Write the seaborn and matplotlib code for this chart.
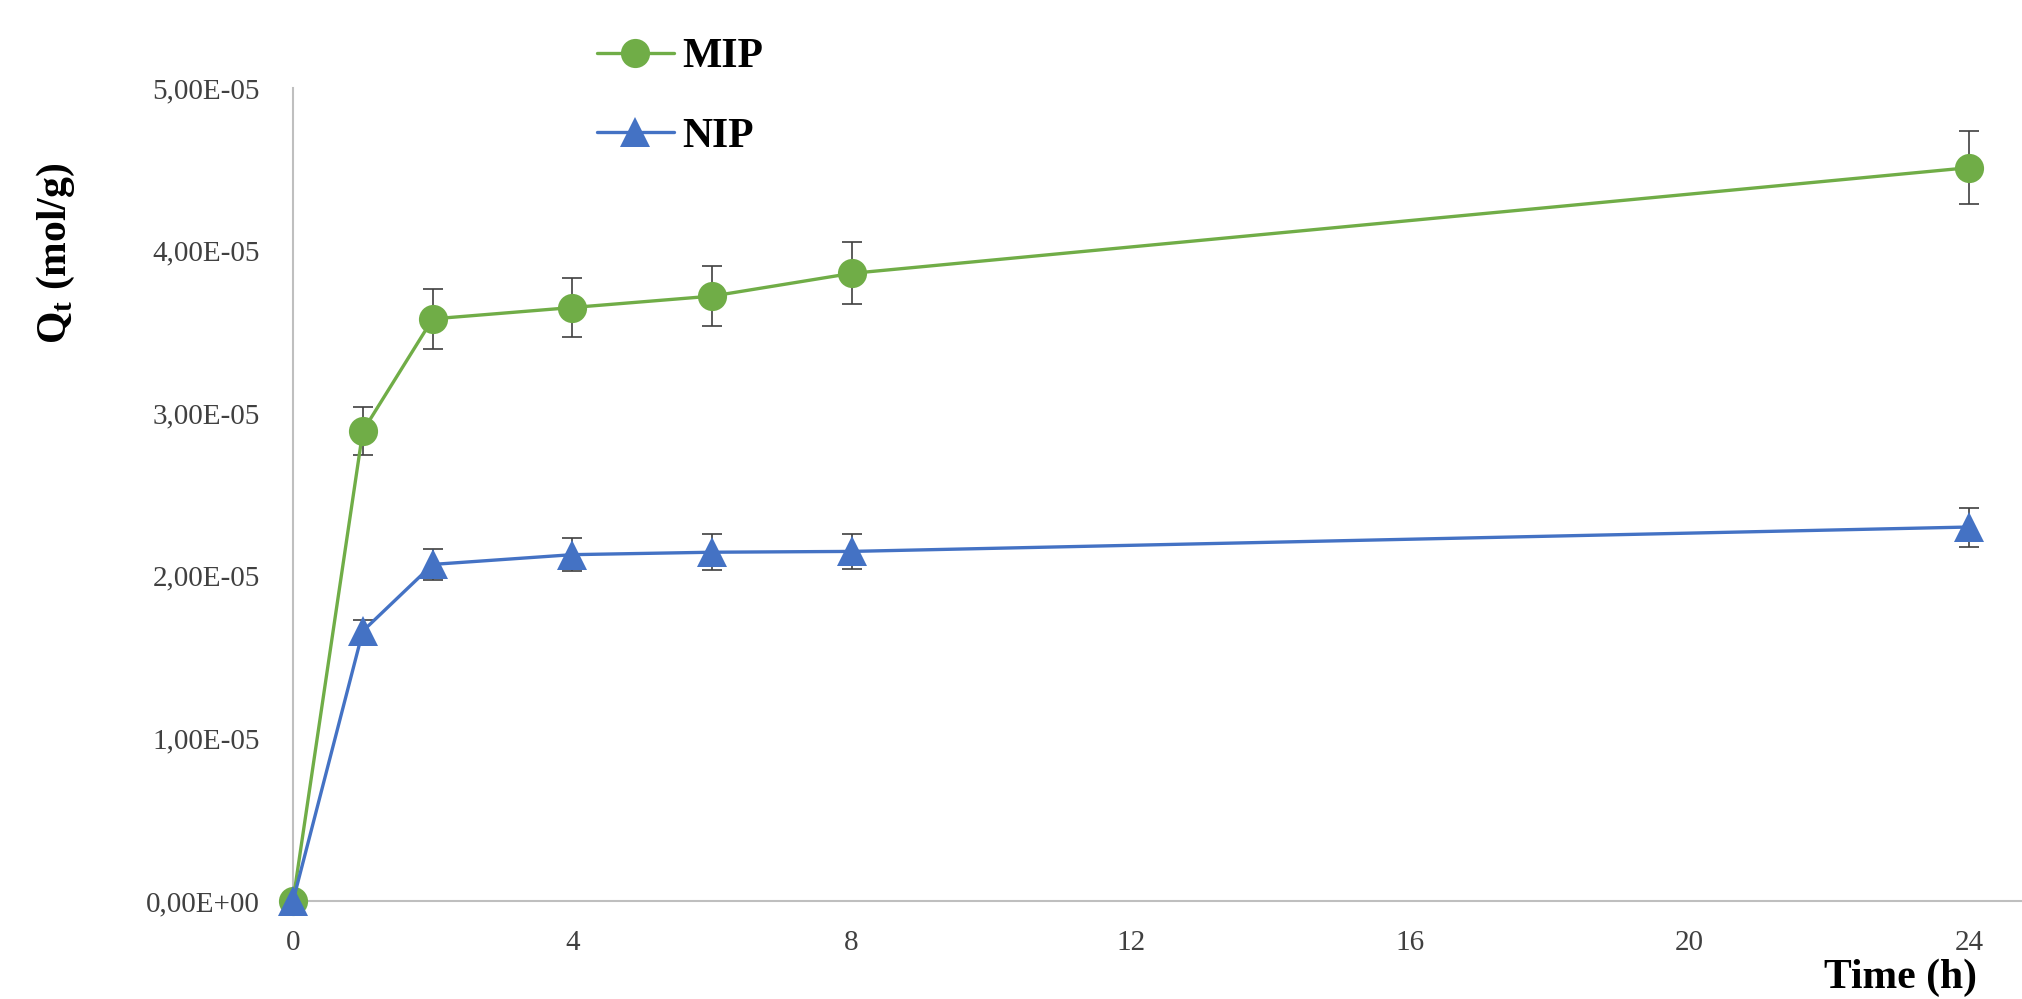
import numpy as np
import pandas as pd
from matplotlib import pyplot as plt
from matplotlib.ticker import FuncFormatter
import seaborn as sns

sns.set_theme(style="white")
plt.rcParams['font.family'] = ['Liberation Serif', 'DejaVu Serif']
plt.rcParams['mathtext.fontset'] = 'custom'
plt.rcParams['mathtext.bf'] = 'Liberation Serif:bold'
plt.rcParams['mathtext.rm'] = 'Liberation Serif'

# data
time_h = [0, 1, 2, 4, 6, 8, 24]
mip = [0.0, 2.89e-5, 3.58e-5, 3.65e-5, 3.72e-5, 3.86e-5, 4.51e-5]
mip_err = [0.0, 0.146e-5, 0.183e-5, 0.183e-5, 0.183e-5, 0.19e-5, 0.226e-5]
nip = [0.0, 1.66e-5, 2.07e-5, 2.13e-5, 2.145e-5, 2.15e-5, 2.30e-5]
nip_err = [0.0, 0.07e-5, 0.097e-5, 0.10e-5, 0.11e-5, 0.11e-5, 0.12e-5]
x_ticks = [0, 4, 8, 12, 16, 20, 24]
y_ticks = [0, 1e-5, 2e-5, 3e-5, 4e-5, 5e-5]

df = pd.concat([
    pd.DataFrame({'Time': time_h, 'Qt': mip, 'err': mip_err, 'Sample': 'MIP'}),
    pd.DataFrame({'Time': time_h, 'Qt': nip, 'err': nip_err, 'Sample': 'NIP'}),
])

colors = {'MIP': '#70AD47', 'NIP': '#4472C4'}
marks = {'MIP': 'o', 'NIP': '^'}

fig = plt.figure(figsize=(20.22, 9.99), dpi=100)
ax = fig.add_axes([293 / 2022, 1 - 901 / 999, 1 - 293 / 2022, (901 - 88) / 999])

# error bars first so the markers sit on top
for name, grp in df.groupby('Sample'):
    ax.errorbar(grp['Time'], grp['Qt'], yerr=grp['err'], fmt='none',
                ecolor='#404040', elinewidth=1.2, capsize=7, capthick=1.2, zorder=2)

sns.lineplot(data=df, x='Time', y='Qt', hue='Sample', style='Sample',
             palette=colors, markers=marks, dashes=False, markersize=21,
             markeredgewidth=0, linewidth=2.4, ax=ax, zorder=3, legend=False)
for ln in ax.lines:
    ln.set_clip_on(False)

ax.set_xlim(0, (2022 - 293) / ((1969 - 293) / 24))
ax.set_ylim(0, 5e-5)
ax.set_xticks(x_ticks)
ax.set_yticks(y_ticks)
ax.yaxis.set_major_formatter(FuncFormatter(lambda v, p: f"{v:.2E}".replace('.', ',')))
ax.tick_params(axis='both', length=0, labelsize=21, labelcolor='#404040')
ax.tick_params(axis='x', pad=21)
ax.tick_params(axis='y', pad=24)
ax.set_xlabel('')
ax.set_ylabel('')

for s in ['top', 'right']:
    ax.spines[s].set_visible(False)
for s in ['left', 'bottom']:
    ax.spines[s].set_color('#BFBFBF')
    ax.spines[s].set_linewidth(1.5)

fig.text(56 / 2022, 1 - 253 / 999, r'Q$_\mathbf{t}$ (mol/g)', rotation=90,
         ha='center', va='center', fontsize=30, fontweight='bold', color='black')
fig.text(1977 / 2022, 1 - 988 / 999, 'Time (h)', ha='right', va='baseline',
         fontsize=30, fontweight='bold', color='black')

handles = [plt.Line2D([], [], color=colors[k], marker=marks[k], markersize=21,
                      markeredgewidth=0, linewidth=2.4) for k in ['MIP', 'NIP']]
leg = fig.legend(handles, ['MIP', 'NIP'], loc='center', bbox_to_anchor=(680 / 2022, 1 - 97 / 999),
                 frameon=False, handlelength=1.85, handletextpad=0.2, labelspacing=1.0,
                 prop={'size': 30, 'weight': 'bold'})
for t in leg.get_texts():
    t.set_color('black')

fig.savefig('out.png', dpi=100)
